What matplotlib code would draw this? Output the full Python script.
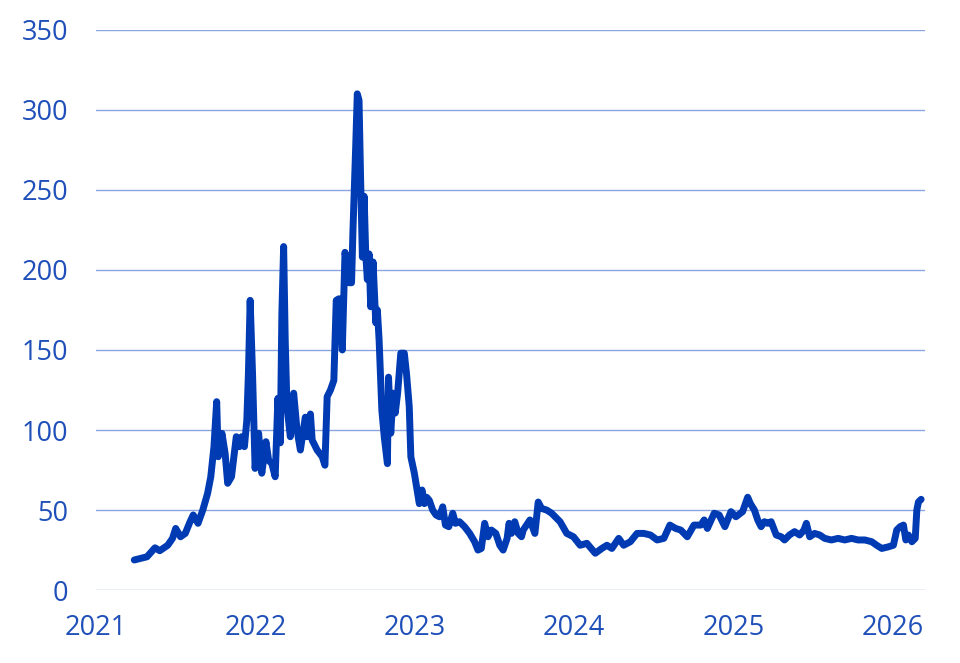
import matplotlib.pyplot as plt

# Price series (x in decimal years, y in price units)
years = [
    2021.24, 2021.32, 2021.37, 2021.40, 2021.45, 2021.48, 2021.50, 2021.53, 2021.56, 2021.59,
    2021.61, 2021.64, 2021.67, 2021.70, 2021.72, 2021.74, 2021.757, 2021.767, 2021.79, 2021.81,
    2021.826, 2021.85, 2021.88, 2021.90, 2021.914, 2021.931, 2021.946, 2021.956, 2021.967, 2021.982,
    2021.998, 2022.02, 2022.04, 2022.066, 2022.083, 2022.103, 2022.124, 2022.141, 2022.156, 2022.166,
    2022.177, 2022.187, 2022.198, 2022.219, 2022.240, 2022.261, 2022.282, 2022.313, 2022.324, 2022.345,
    2022.356, 2022.387, 2022.419, 2022.436, 2022.450, 2022.471, 2022.492, 2022.507, 2022.524, 2022.545,
    2022.562, 2022.576, 2022.587, 2022.603, 2022.612, 2022.629, 2022.639, 2022.650, 2022.660, 2022.671,
    2022.682, 2022.692, 2022.702, 2022.713, 2022.723, 2022.738, 2022.755, 2022.765, 2022.776, 2022.793,
    2022.808, 2022.828, 2022.835, 2022.849, 2022.864, 2022.877, 2022.892, 2022.912, 2022.934, 2022.948,
    2022.965, 2022.975, 2022.997, 2023.011, 2023.028, 2023.045, 2023.060, 2023.074, 2023.091, 2023.112,
    2023.133, 2023.154, 2023.175, 2023.192, 2023.213, 2023.238, 2023.255, 2023.280, 2023.312, 2023.344,
    2023.375, 2023.396, 2023.417, 2023.438, 2023.459, 2023.480, 2023.508, 2023.533, 2023.554, 2023.579,
    2023.591, 2023.606, 2023.627, 2023.648, 2023.669, 2023.680, 2023.722, 2023.753, 2023.774, 2023.795,
    2023.827, 2023.858, 2023.890, 2023.911, 2023.953, 2023.995, 2024.037, 2024.079, 2024.132, 2024.173,
    2024.205, 2024.236, 2024.279, 2024.310, 2024.352, 2024.394, 2024.436, 2024.478, 2024.520, 2024.562,
    2024.600, 2024.636, 2024.668, 2024.709, 2024.751, 2024.794, 2024.815, 2024.835, 2024.878, 2024.909,
    2024.945, 2024.983, 2025.014, 2025.056, 2025.077, 2025.088, 2025.105, 2025.130, 2025.151, 2025.172,
    2025.193, 2025.214, 2025.235, 2025.267, 2025.298, 2025.319, 2025.350, 2025.382, 2025.414, 2025.441,
    2025.456, 2025.477, 2025.508, 2025.540, 2025.571, 2025.613, 2025.655, 2025.697, 2025.739, 2025.781,
    2025.823, 2025.866, 2025.897, 2025.929, 2025.970, 2026.002, 2026.023, 2026.044, 2026.065, 2026.080,
    2026.096, 2026.118, 2026.139, 2026.149, 2026.159, 2026.176,
]
prices = [
    18.8, 20.8, 26.4, 24.6, 28.0, 32.3, 38.5, 33.3, 35.4, 42.7,
    46.9, 41.7, 50.0, 60.4, 70.8, 89.6, 117.7, 83.3, 97.9, 85.4,
    66.7, 70.8, 95.8, 89.6, 95.8, 89.6, 106.0, 135.0, 181.0, 135.0,
    76.0, 98.0, 73.0, 92.7, 81.0, 79.0, 70.8, 119.8, 92.0, 173.0,
    214.6, 156.0, 114.6, 95.8, 123.0, 100.0, 87.5, 108.0, 95.8, 110.0,
    93.7, 87.5, 83.3, 78.0, 120.8, 125.0, 131.0, 181.0, 182.0, 150.0,
    211.0, 202.0, 192.0, 192.0, 225.0, 277.0, 310.0, 306.0, 256.0, 208.0,
    246.0, 210.0, 194.0, 210.0, 177.0, 205.0, 167.0, 175.0, 156.0, 112.5,
    95.8, 79.0, 133.0, 98.0, 123.0, 110.6, 123.0, 148.0, 148.0, 135.0,
    114.6, 83.3, 73.0, 64.6, 54.0, 62.5, 54.0, 58.0, 56.0, 50.0,
    46.9, 45.8, 52.0, 40.6, 39.6, 48.0, 41.7, 42.7, 39.6, 35.4,
    30.2, 25.0, 26.0, 41.7, 33.3, 37.5, 35.4, 28.0, 25.0, 32.3,
    41.7, 35.4, 42.7, 35.4, 33.3, 37.5, 43.8, 35.4, 55.0, 51.0,
    50.0, 48.0, 44.8, 42.7, 35.4, 33.3, 28.0, 29.2, 23.0, 26.0,
    28.0, 26.0, 32.3, 28.0, 30.2, 35.4, 35.4, 34.4, 31.3, 32.3,
    40.6, 38.5, 37.5, 33.3, 40.6, 40.6, 43.8, 38.5, 48.0, 46.9,
    39.6, 49.0, 45.8, 49.0, 55.0, 58.0, 54.0, 50.0, 43.8, 39.6,
    42.7, 41.7, 42.7, 34.4, 33.3, 31.3, 34.4, 36.5, 34.4, 37.5,
    41.7, 33.3, 35.4, 34.4, 32.3, 31.3, 32.3, 31.3, 32.3, 31.3,
    31.3, 30.2, 28.0, 26.0, 27.0, 28.0, 37.5, 39.6, 40.6, 31.3,
    34.4, 30.2, 32.3, 50.0, 55.0, 56.7,
]

year_ticks = [2021, 2022, 2023, 2024, 2025, 2026]
value_ticks = [0, 50, 100, 150, 200, 250, 300, 350]

text_blue = '#1f4fb8'
line_blue = '#003bb3'
grid_blue = '#8aa5e0'

plt.rcParams['font.family'] = ['Open Sans', 'DejaVu Sans']

fig = plt.figure(figsize=(9.6, 6.63), dpi=100)
ax = fig.add_axes([0.1, 0.11, 0.8635, 0.845])

ax.plot(years, prices, color=line_blue, linewidth=5, solid_joinstyle='round',
        solid_capstyle='round', zorder=3)

ax.set_xlim(2021.0, 2026.2)
ax.set_ylim(0, 350)
ax.set_xticks(year_ticks)
ax.set_xticklabels([str(y) for y in year_ticks])
ax.set_yticks(value_ticks)
ax.grid(True, axis='y', color=grid_blue, linewidth=1.0, zorder=0)
for s in ax.spines.values():
    s.set_visible(False)
ax.tick_params(axis='both', length=0, labelsize=19.5, labelcolor=text_blue)
ax.tick_params(axis='y', pad=20)
ax.tick_params(axis='x', pad=17)

fig.savefig('out.png', dpi=100)
